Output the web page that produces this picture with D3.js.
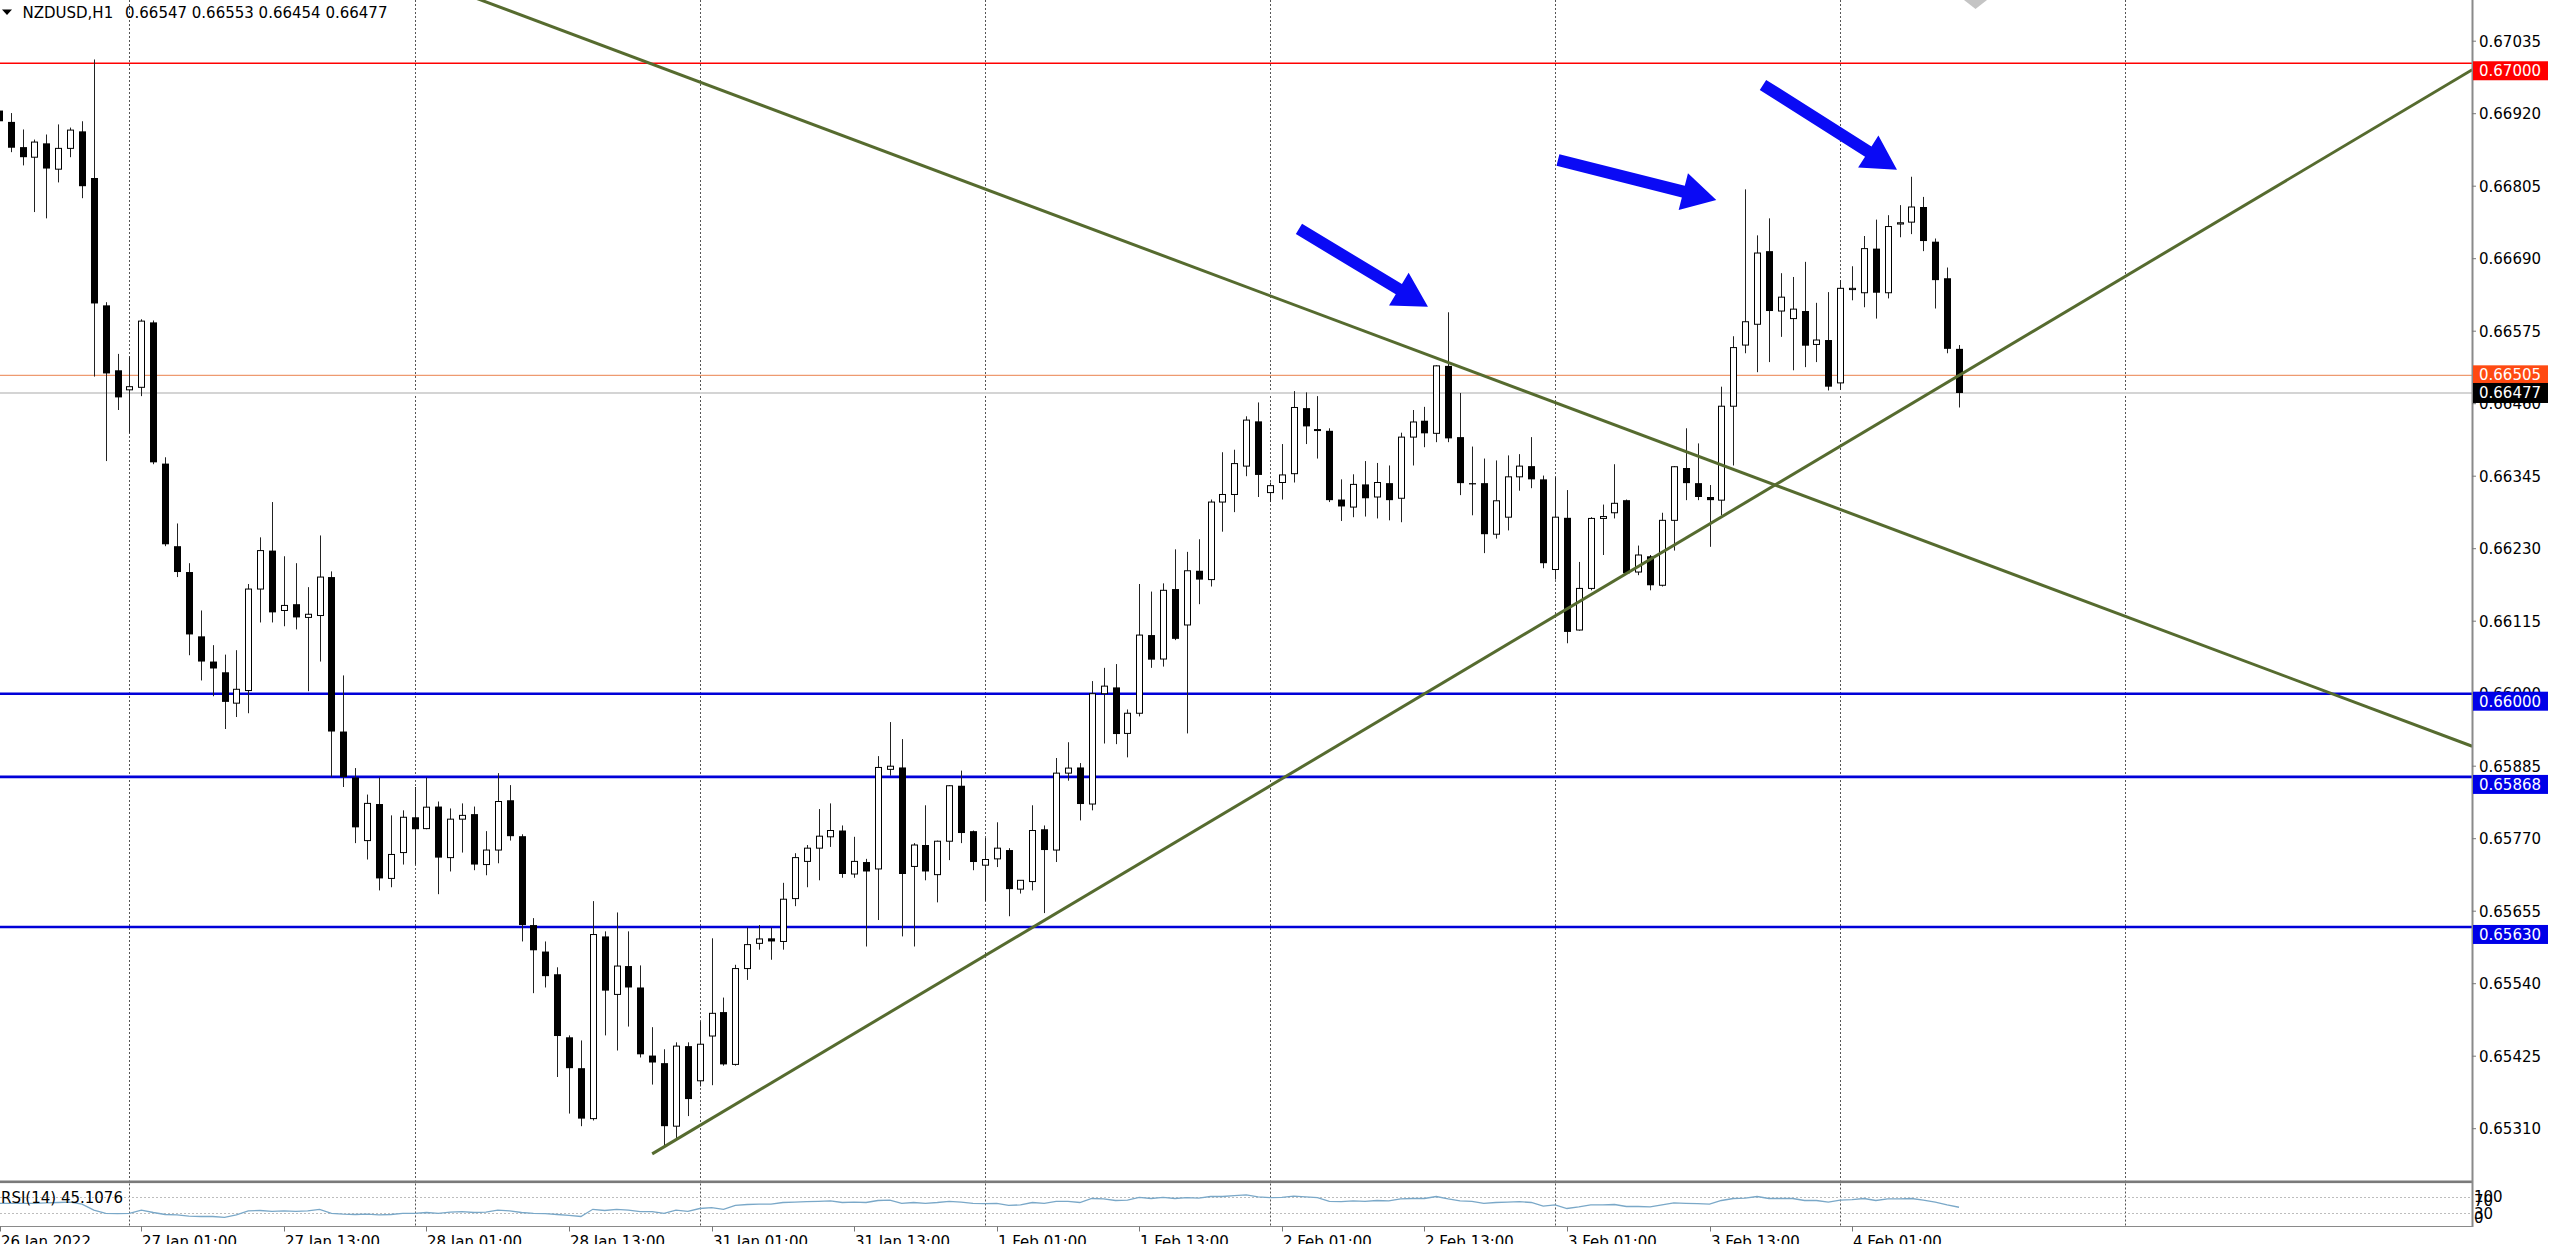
<!DOCTYPE html>
<html><head><meta charset="utf-8">
<script src="https://cdn.jsdelivr.net/npm/d3@7"></script>
<style>html,body{margin:0;padding:0;background:#fff;overflow:hidden}svg{display:block}text{font-family:"DejaVu Sans",sans-serif}</style>
</head><body><svg id="c" width="2560" height="1244"></svg>
<script>
const symbolTitle = "NZDUSD,H1";
const opens = [0.66925,0.66907,0.66867,0.66851,0.66873,0.66832,0.66865,0.66892,0.66818,0.66616,
0.66513,0.66482,0.66486,0.66589,0.66365,0.66234,0.66193,0.66091,0.66051,0.66034,
0.65985,0.66005,0.66166,0.66227,0.66132,0.66142,0.66121,0.66124,0.66185,0.65940,
0.65867,0.65767,0.65825,0.65707,0.65748,0.65804,0.65786,0.65821,0.65740,0.65801,
0.65809,0.65729,0.65752,0.65831,0.65774,0.65633,0.65591,0.65555,0.65455,0.65406,
0.65326,0.65615,0.65523,0.65568,0.65534,0.65426,0.65414,0.65314,0.65441,0.65386,
0.65457,0.65495,0.65412,0.65564,0.65604,0.65612,0.65607,0.65675,0.65734,0.65755,
0.65773,0.65783,0.65714,0.65733,0.65722,0.65880,0.65883,0.65726,0.65760,0.65713,
0.65766,0.65854,0.65782,0.65728,0.65738,0.65752,0.65690,0.65702,0.65785,0.65752,
0.65874,0.65883,0.65825,0.66000,0.66010,0.65937,0.65969,0.66093,0.66055,0.66166,
0.66109,0.66195,0.66181,0.66304,0.66316,0.66361,0.66432,0.66319,0.66335,0.66349,
0.66453,0.66418,0.66417,0.66308,0.66296,0.66332,0.66312,0.66334,0.66310,0.66407,
0.66433,0.66413,0.66520,0.66407,0.66334,0.66334,0.66253,0.66280,0.66344,0.66361,
0.66340,0.66197,0.66279,0.66101,0.66167,0.66278,0.66287,0.66307,0.66193,0.66218,
0.66172,0.66275,0.66358,0.66334,0.66312,0.66307,0.66456,0.66553,0.66586,0.66702,
0.66607,0.66595,0.66607,0.66554,0.66561,0.66493,0.66641,0.66636,0.66706,0.66636,
0.66745,0.66748,0.66772,0.66717,0.66659,0.66547];
const highs = [0.66932,0.66921,0.66895,0.66879,0.66887,0.66903,0.66898,0.66908,0.67006,0.66621,
0.66539,0.66535,0.66594,0.66592,0.66375,0.66270,0.66207,0.66132,0.66077,0.66062,
0.66069,0.66174,0.66248,0.66304,0.66218,0.66207,0.66169,0.66251,0.66194,0.66029,
0.65882,0.65840,0.65867,0.65807,0.65815,0.65852,0.65867,0.65829,0.65818,0.65826,
0.65821,0.65782,0.65874,0.65855,0.65777,0.65644,0.65607,0.65566,0.65458,0.65450,
0.65671,0.65623,0.65653,0.65623,0.65569,0.65471,0.65436,0.65447,0.65447,0.65480,
0.65612,0.65518,0.65570,0.65629,0.65633,0.65629,0.65700,0.65747,0.65760,0.65817,
0.65826,0.65791,0.65773,0.65738,0.65901,0.65955,0.65928,0.65763,0.65823,0.65767,
0.65855,0.65878,0.65783,0.65771,0.65796,0.65755,0.65704,0.65823,0.65791,0.65898,
0.65923,0.65890,0.66020,0.66041,0.66047,0.65975,0.66174,0.66162,0.66175,0.66229,
0.66225,0.66245,0.66308,0.66383,0.66387,0.66440,0.66462,0.66335,0.66396,0.66480,
0.66478,0.66472,0.66421,0.66340,0.66348,0.66369,0.66366,0.66362,0.66414,0.66450,
0.66455,0.66521,0.66605,0.66477,0.66392,0.66373,0.66370,0.66378,0.66380,0.66407,
0.66346,0.66344,0.66323,0.66209,0.66280,0.66300,0.66364,0.66308,0.66235,0.66220,
0.66287,0.66361,0.66421,0.66397,0.66331,0.66487,0.66567,0.66800,0.66727,0.66754,
0.66667,0.66661,0.66685,0.66620,0.66637,0.66656,0.66678,0.66726,0.66752,0.66759,
0.66775,0.66820,0.66788,0.66722,0.66676,0.66553];
const lows = [0.66902,0.66859,0.66838,0.66764,0.66754,0.66811,0.66851,0.66786,0.66503,0.66369,
0.66450,0.66413,0.66472,0.66364,0.66234,0.66185,0.66061,0.66021,0.65996,0.65944,
0.65963,0.65969,0.66113,0.66113,0.66107,0.66102,0.66004,0.66051,0.65868,0.65852,
0.65763,0.65737,0.65688,0.65693,0.65729,0.65729,0.65785,0.65682,0.65718,0.65748,
0.65720,0.65712,0.65731,0.65767,0.65607,0.65525,0.65534,0.65392,0.65334,0.65314,
0.65323,0.65458,0.65434,0.65472,0.65423,0.65380,0.65282,0.65293,0.65330,0.65377,
0.65379,0.65410,0.65410,0.65546,0.65594,0.65578,0.65594,0.65663,0.65693,0.65704,
0.65757,0.65708,0.65708,0.65599,0.65641,0.65870,0.65615,0.65599,0.65704,0.65669,
0.65736,0.65763,0.65720,0.65671,0.65725,0.65647,0.65683,0.65688,0.65652,0.65733,
0.65862,0.65799,0.65815,0.65921,0.65920,0.65899,0.65964,0.66041,0.66043,0.66085,
0.65937,0.66142,0.66170,0.66257,0.66288,0.66345,0.66312,0.66304,0.66308,0.66335,
0.66396,0.66373,0.66304,0.66274,0.66280,0.66281,0.66278,0.66275,0.66272,0.66362,
0.66391,0.66399,0.66399,0.66315,0.66283,0.66223,0.66246,0.66259,0.66322,0.66326,
0.66199,0.66181,0.66080,0.66100,0.66164,0.66220,0.66278,0.66189,0.66188,0.66164,
0.66170,0.66227,0.66307,0.66307,0.66233,0.66283,0.66362,0.66540,0.66510,0.66526,
0.66566,0.66513,0.66518,0.66526,0.66481,0.66482,0.66624,0.66613,0.66595,0.66627,
0.66724,0.66729,0.66702,0.66611,0.66540,0.66454];
const closes = [0.66908,0.66866,0.66851,0.66875,0.66833,0.66865,0.66894,0.66805,0.66619,0.66508,
0.66470,0.66487,0.66591,0.66367,0.66237,0.66193,0.66094,0.66051,0.66040,0.65987,
0.66007,0.66166,0.66227,0.66129,0.66140,0.66121,0.66126,0.66185,0.65940,0.65868,
0.65788,0.65826,0.65707,0.65745,0.65804,0.65785,0.65820,0.65740,0.65801,0.65807,
0.65729,0.65752,0.65829,0.65774,0.65633,0.65593,0.65552,0.65457,0.65406,0.65326,
0.65618,0.65529,0.65568,0.65534,0.65428,0.65415,0.65314,0.65441,0.65357,0.65444,
0.65493,0.65412,0.65564,0.65602,0.65611,0.65607,0.65674,0.65740,0.65755,0.65774,
0.65783,0.65714,0.65734,0.65718,0.65883,0.65885,0.65714,0.65760,0.65718,0.65766,
0.65854,0.65779,0.65733,0.65737,0.65755,0.65690,0.65704,0.65783,0.65752,0.65874,
0.65882,0.65825,0.66000,0.66012,0.65936,0.65969,0.66093,0.66054,0.66164,0.66087,
0.66195,0.66181,0.66304,0.66316,0.66365,0.66434,0.66347,0.66330,0.66347,0.66454,
0.66424,0.66419,0.66307,0.66297,0.66332,0.66310,0.66335,0.66307,0.66407,0.66431,
0.66413,0.66520,0.66405,0.66334,0.66332,0.66253,0.66306,0.66344,0.66361,0.66340,
0.66207,0.66280,0.66098,0.66167,0.66278,0.66281,0.66302,0.66191,0.66220,0.66172,
0.66275,0.66360,0.66334,0.66312,0.66307,0.66456,0.66549,0.66590,0.66699,0.66607,
0.66629,0.66610,0.66552,0.66561,0.66487,0.66643,0.66643,0.66706,0.66636,0.66741,
0.66747,0.66772,0.66718,0.66656,0.66547,0.66477];
const rsiValues = [55,55,55,55,56,57,58,53,38,30,29,30,38,32,27,26,23,22,22,20,
26,36,37,35,36,35,36,40,30,28,27,28,26,27,30,30,32,30,33,34,
32,33,38,36,32,30,29,27,25,22,40,37,40,38,34,34,30,38,35,42,
44,40,50,52,53,53,57,58,59,60,61,57,58,57,62,63,55,57,55,57,
60,58,55,54,55,50,51,57,55,60,60,57,67,66,62,63,70,67,70,67,
69,68,72,72,74,76,71,69,70,73,71,69,60,59,61,60,62,61,66,67,
67,72,66,61,60,55,57,58,59,57,48,51,42,46,51,51,52,47,47,46,
51,56,55,54,53,62,67,68,72,67,67,67,62,62,58,63,64,67,62,66,
66,67,63,58,51,45.1076];
const rsiLabel = "RSI(14) 45.1076";
const priceTicks = [0.67035,0.66920,0.66805,0.66690,0.66575,0.66460,0.66345,0.66230,0.66115,0.66000,0.65885,0.65770,0.65655,0.65540,0.65425,0.65310];
const timeLabels = ["26 Jan 2022","27 Jan 01:00","27 Jan 13:00","28 Jan 01:00","28 Jan 13:00","31 Jan 01:00","31 Jan 13:00","1 Feb 01:00","1 Feb 13:00","2 Feb 01:00","2 Feb 13:00","3 Feb 01:00","3 Feb 13:00","4 Feb 01:00"];
const timeLabelBars = [0,12,24,36,48,60,72,84,96,108,120,132,144,156];
const gridBars = [11,35,59,83,107,131,155,179];
const levelPrices = [0.67000,0.66000,0.65868,0.65630];
const markPrice = 0.66505;
const bidPrice = 0.66477;
const rsiLevels = [70,30];
const rsiAxisLabels = ["100","70","30","0"];
const trendDown = [[109.53,0.666134],[208.2,0.659166]];
const trendUp = [[55.0,0.652701],[208.2,0.669898]];
const arrowsData = [[[109.44,0.667372],[120.3,0.666139]],[[131.24,0.668466],[144.57,0.667832]],[[148.5,0.669656],[159.78,0.668311]]];

const svg = d3.select('#c');
const axisX = 2472, mainBottom = 1180.5, rsiTop = 1183.5, rsiBottom = 1226.5;
const x = d3.scaleLinear().domain([0,179]).range([-1.2, -1.2+179*11.88]);
const y = d3.scaleLinear().domain([0.67035,0.65310]).range([41.2,1128.7]);
const yR = d3.scaleLinear().domain([0,100]).range([1225.3,1185.3]);
const F = '"DejaVu Sans", sans-serif';

svg.append('rect').attr('width',2560).attr('height',1244).attr('fill','#fff');
const defs = svg.append('defs');
defs.append('clipPath').attr('id','cm').append('rect').attr('x',0).attr('y',0).attr('width',axisX).attr('height',mainBottom);
defs.append('clipPath').attr('id','cr').append('rect').attr('x',0).attr('y',rsiTop).attr('width',axisX).attr('height',rsiBottom-rsiTop);

// grid
const gg = svg.append('g');
gridBars.forEach(b=>{
  const gx = Math.round(x(b))+0.5;
  gg.append('line').attr('x1',gx).attr('x2',gx).attr('y1',0).attr('y2',mainBottom).attr('stroke','#555').attr('stroke-dasharray','2,2');
  gg.append('line').attr('x1',gx).attr('x2',gx).attr('y1',rsiTop).attr('y2',rsiBottom).attr('stroke','#555').attr('stroke-dasharray','2,2');
});

const main = svg.append('g').attr('clip-path','url(#cm)');
main.append('line').attr('x1',0).attr('x2',axisX).attr('y1',y(bidPrice)).attr('y2',y(bidPrice)).attr('stroke','#d4d4d4').attr('stroke-width',2);
main.append('line').attr('x1',0).attr('x2',axisX).attr('y1',y(markPrice)).attr('y2',y(markPrice)).attr('stroke','#ee9a70').attr('stroke-width',1.2);
levelPrices.forEach((p,k)=>{
  main.append('line').attr('x1',0).attr('x2',axisX).attr('y1',y(p)).attr('y2',y(p))
    .attr('stroke',k===0?'#ff0000':'#0000d8').attr('stroke-width',k===0?1.5:2.6);
});

// candles
const data = opens.map((o,i)=>({i,o,h:highs[i],l:lows[i],c:closes[i]}));
main.selectAll('line.w').data(data).join('line').attr('class','w')
  .attr('x1',d=>Math.round(x(d.i))+0.5).attr('x2',d=>Math.round(x(d.i))+0.5)
  .attr('y1',d=>y(d.h)).attr('y2',d=>y(d.l)).attr('stroke','#222').attr('stroke-width',1);
main.selectAll('rect.b').data(data).join('rect').attr('class','b')
  .attr('x',d=>d.c>=d.o?Math.round(x(d.i))-2.5:Math.round(x(d.i))-3)
  .attr('width',d=>d.c>=d.o?6:7)
  .attr('y',d=>y(Math.max(d.o,d.c)))
  .attr('height',d=>Math.max(1,y(Math.min(d.o,d.c))-y(Math.max(d.o,d.c))))
  .attr('fill',d=>d.c>=d.o?'#fff':'#000')
  .attr('stroke',d=>d.c>=d.o?'#000':'none').attr('stroke-width',1);

// trendlines
function ext(a,b,t0,t1){
  const x1=x(a[0]),y1=y(a[1]),x2=x(b[0]),y2=y(b[1]);
  return [x1+(x2-x1)*t0,y1+(y2-y1)*t0,x1+(x2-x1)*t1,y1+(y2-y1)*t1];
}
[[trendDown,-1,1],[trendUp,0,1]].forEach(([tl,t0,t1])=>{
  const e = ext(tl[0],tl[1],t0,t1);
  main.append('line').attr('x1',e[0]).attr('y1',e[1]).attr('x2',e[2]).attr('y2',e[3])
    .attr('stroke','#566b2f').attr('stroke-width',3);
});

// arrows
function arrowPoly(x1,y1,x2,y2,w,hl,hw){
  const dx=x2-x1,dy=y2-y1,L=Math.hypot(dx,dy),ux=dx/L,uy=dy/L,nx=-uy,ny=ux;
  const bx=x2-ux*hl,by=y2-uy*hl;
  return [[x1+nx*w/2,y1+ny*w/2],[bx+nx*w/2,by+ny*w/2],[bx+nx*hw/2,by+ny*hw/2],[x2,y2],[bx-nx*hw/2,by-ny*hw/2],[bx-nx*w/2,by-ny*w/2],[x1-nx*w/2,y1-ny*w/2]];
}
arrowsData.forEach(([a,b])=>{
  const pts = arrowPoly(x(a[0]),y(a[1]),x(b[0]),y(b[1]),12,34,38);
  main.append('polygon').attr('points',pts.map(p=>p.join(',')).join(' ')).attr('fill','#0a0af5');
});

// shift marker
svg.append('polygon').attr('points','1964,0 1987,0 1975.5,9').attr('fill','#c4c4c4');

// separator & panel borders
svg.append('rect').attr('x',0).attr('y',1180.5).attr('width',axisX).attr('height',2.6).attr('fill','#7a7a7a');
svg.append('line').attr('x1',0).attr('x2',axisX).attr('y1',rsiBottom).attr('y2',rsiBottom).attr('stroke','#8a8a8a').attr('stroke-width',1);
svg.append('line').attr('x1',axisX+0.5).attr('x2',axisX+0.5).attr('y1',0).attr('y2',rsiBottom+0.5).attr('stroke','#8a8a8a').attr('stroke-width',2);

// RSI
const rg = svg.append('g').attr('clip-path','url(#cr)');
rsiLevels.forEach(v=>{
  rg.append('line').attr('x1',0).attr('x2',axisX).attr('y1',Math.round(yR(v))+0.5).attr('y2',Math.round(yR(v))+0.5)
    .attr('stroke','#bdbdbd').attr('stroke-dasharray','2,2');
});
rg.append('path').datum(rsiValues).attr('fill','none').attr('stroke','#7aa8c8').attr('stroke-width',1.3)
  .attr('d',d3.line().x((v,i)=>x(i)).y(v=>yR(v)));
svg.append('text').attr('x',1).attr('y',1203).attr('font-size',15).attr('font-family',F).attr('fill','#000').text(rsiLabel);
const rsiLabY = [1197,1200.5,1213.5,1217.5];
rsiAxisLabels.forEach((t,k)=>{
  svg.append('text').attr('x',2474).attr('y',rsiLabY[k]).attr('dy','0.36em').attr('font-size',15).attr('font-family',F).attr('fill','#000').text(t);
});

// price axis
priceTicks.forEach(p=>{
  const ty = y(p);
  svg.append('line').attr('x1',axisX).attr('x2',axisX+4).attr('y1',ty).attr('y2',ty).attr('stroke','#777');
  svg.append('text').attr('x',2479).attr('y',ty).attr('dy','0.36em').attr('font-size',15).attr('font-family',F).attr('fill','#000').text(p.toFixed(5));
});
function box(p,top,h,fill){
  svg.append('rect').attr('x',2473).attr('y',top).attr('width',75).attr('height',h).attr('fill',fill);
  svg.append('text').attr('x',2479).attr('y',top+h/2).attr('dy','0.36em').attr('font-size',15).attr('font-family',F).attr('fill','#fff').text(p.toFixed(5));
}
levelPrices.forEach((p,k)=>box(p,y(p)-2,19,k===0?'#ff0000':'#0000e8'));
box(markPrice,y(markPrice)-10,19,'#ff4a12');
box(bidPrice,y(bidPrice)-10,20,'#000');

// time axis
timeLabelBars.forEach((b,k)=>{
  const tx = Math.max(0,Math.round(x(b)));
  svg.append('line').attr('x1',tx+0.5).attr('x2',tx+0.5).attr('y1',rsiBottom).attr('y2',rsiBottom+5).attr('stroke','#777');
  svg.append('text').attr('x',k===0?1:tx+1).attr('y',1247).attr('font-size',15).attr('font-family',F).attr('fill','#000').text(timeLabels[k]);
});

// title
svg.append('polygon').attr('points','2,9.5 12,9.5 7,15').attr('fill','#000');
svg.append('text').attr('x',22.5).attr('y',18.3).attr('font-size',15).attr('font-family',F).attr('fill','#000').text(symbolTitle);
svg.append('text').attr('x',125).attr('y',18.3).attr('font-size',15).attr('font-family',F).attr('fill','#000')
  .text([opens[165],highs[165],lows[165],closes[165]].map(v=>v.toFixed(5)).join(' '));
</script></body></html>
